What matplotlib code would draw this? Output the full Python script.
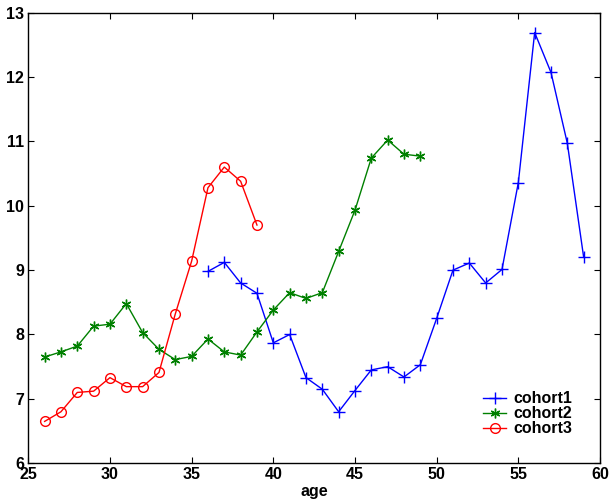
import numpy as np
import matplotlib
matplotlib.use('Agg')
import matplotlib.pyplot as plt

plt.rcParams['font.family'] = ['Liberation Sans', 'DejaVu Sans']
plt.rcParams['font.weight'] = 'bold'

# income by age for three cohorts
age1 = list(range(36, 60))
cohort1 = [8.98, 9.12, 8.80, 8.64, 7.87, 8.00, 7.33, 7.15, 6.80, 7.13, 7.45, 7.50,
           7.34, 7.53, 8.25, 9.00, 9.11, 8.80, 9.01, 10.36, 12.69, 12.07, 10.97, 9.20]
age2 = list(range(26, 50))
cohort2 = [7.65, 7.73, 7.82, 8.13, 8.16, 8.48, 8.03, 7.77, 7.61, 7.66, 7.93, 7.73,
           7.68, 8.04, 8.38, 8.65, 8.56, 8.65, 9.29, 9.93, 10.74, 11.02, 10.80, 10.77]
age3 = list(range(26, 40))
cohort3 = [6.65, 6.80, 7.10, 7.12, 7.33, 7.19, 7.19, 7.41, 8.32, 9.14, 10.28, 10.60,
           10.38, 9.70]

fig = plt.figure(figsize=(6.11, 5.03), dpi=100)
ax = fig.add_axes([0.0463, 0.079, 0.9357, 0.896])

ax.plot(age1, cohort1, color='blue', lw=1, marker='+', ms=8, mew=1, label='cohort1')
ax.plot(age2, cohort2, color='green', lw=1, marker=(6, 2, 0), ms=7, mew=1, label='cohort2')
ax.plot(age3, cohort3, color='red', lw=1, marker='o', ms=7, mew=1, mfc='none', label='cohort3')

ax.set_xlim(25, 60)
ax.set_ylim(6, 13)
ax.set_xticks(range(25, 61, 5))
ax.set_yticks(range(6, 14))
ax.tick_params(direction='in', length=4, top=True, right=True, labelsize=11.5, pad=3)
for s in ax.spines.values():
    s.set_linewidth(1)
ax.set_xlabel('age', fontsize=11.5, fontweight='bold', labelpad=1)

leg = ax.legend(loc='lower left', bbox_to_anchor=(0.782, 0.042), frameon=False,
                fontsize=11.5, handlelength=1.4, handletextpad=0.45, labelspacing=0.0,
                borderpad=0)

fig.savefig('out.png', dpi=100)
